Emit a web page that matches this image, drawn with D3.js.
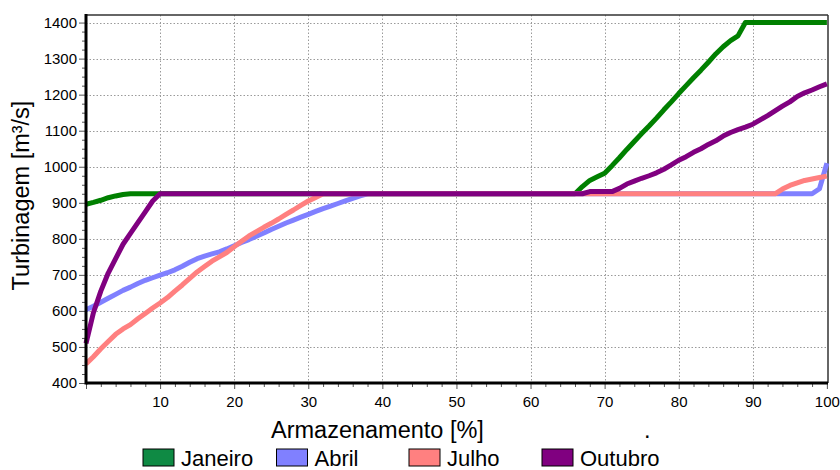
<!DOCTYPE html>
<html>
<head>
<meta charset="utf-8">
<script src="https://cdn.jsdelivr.net/npm/d3@7"></script>
<style>
  html, body { margin: 0; padding: 0; background: #fff; }
  svg { display: block; font-family: "Liberation Sans", Arial, sans-serif; }
</style>
</head>
<body>
<svg id="chart" width="840" height="470"></svg>
<script>
// Turbinagem vs. armazenamento, one curve per month: [armazenamento %, m³/s]
const janeiro = [[0,896],[1,901],[2,907],[3,914],[4,919],[5,923],[6,925],[66,925],[67,945],[68,962],[69,972],[70,982],
  [71,1003],[72,1025],[73,1048],[74,1070],[75,1092],[76,1113],[77,1135],[78,1158],[79,1180],[80,1203],[81,1225],
  [82,1247],[83,1268],[84,1290],[85,1313],[86,1333],[87,1350],[88,1363],[89,1400],[100,1400]];
const abril = [[0,603],[1,613],[2,624],[3,635],[4,646],[5,657],[6,666],[7,676],[8,685],[9,692],[10,699],[11,706],
  [12,714],[13,724],[14,735],[15,745],[16,752],[17,758],[18,764],[19,772],[20,781],[21,790],[22,798],[23,807],
  [24,816],[25,826],[26,835],[27,844],[28,852],[29,860],[30,868],[31,876],[32,884],[33,891],[34,898],[35,905],
  [36,912],[37,919],[38,925],[98,925],[99,939],[100,1010]];
const julho = [[0,453],[1,473],[2,495],[3,515],[4,535],[5,550],[6,562],[7,578],[8,593],[9,608],[10,622],[11,637],
  [12,655],[13,672],[14,690],[15,708],[16,723],[17,738],[18,750],[19,762],[20,778],[21,793],[22,808],[23,820],
  [24,832],[25,843],[26,855],[27,868],[28,880],[29,893],[30,905],[31,915],[32,925],[93,925],[94,938],[95,948],
  [96,955],[97,962],[98,966],[99,970],[100,974]];
const outubro = [[0,510],[1,595],[2,655],[3,705],[4,745],[5,785],[6,815],[7,845],[8,875],[9,905],[10,925],
  [67,925],[68,931],[71,931],[72,940],[73,952],[74,960],[75,968],[76,975],[77,983],[78,993],[79,1005],[80,1018],
  [81,1028],[82,1040],[83,1050],[84,1062],[85,1072],[86,1085],[87,1095],[88,1103],[89,1110],[90,1118],[91,1130],
  [92,1142],[93,1155],[94,1168],[95,1180],[96,1195],[97,1205],[98,1213],[99,1222],[100,1230]];

const seriesNames = ["Janeiro", "Abril", "Julho", "Outubro"];
const seriesData = [janeiro, abril, julho, outubro];
const lineColors = ["#008000", "#8080ff", "#ff8080", "#800080"];
const swatchColors = ["#0f8a44", "#8080ff", "#ff8080", "#800080"];

const xTicks = [0, 10, 20, 30, 40, 50, 60, 70, 80, 90, 100];
const yTicks = [400, 500, 600, 700, 800, 900, 1000, 1100, 1200, 1300, 1400];
const xTitle = "Armazenamento [%]";
const yTitle = "Turbinagem [m³/s]";

const svg = d3.select("#chart");
const W = 840, H = 470;
const m = { left: 86, top: 15, right: 12, bottom: 87 };

const x = d3.scaleLinear().domain([0, 100.15]).range([m.left, W - m.right]);
const y = d3.scaleLinear().domain([400, 1421]).range([H - m.bottom, m.top]);

// dotted grid
const grid = svg.append("g").attr("stroke", "#9a9a9a").attr("stroke-width", 1).attr("stroke-dasharray", "1.5,2");
grid.selectAll("line.gx").data(xTicks.filter(d => d > 0 && d < 100)).join("line")
  .attr("x1", d => Math.round(x(d)) + 0.5).attr("x2", d => Math.round(x(d)) + 0.5)
  .attr("y1", y.range()[1]).attr("y2", y.range()[0]);
grid.selectAll("line.gy").data(yTicks.filter(d => d > 400)).join("line")
  .attr("x1", x.range()[0]).attr("x2", x.range()[1])
  .attr("y1", d => Math.round(y(d)) + 0.5).attr("y2", d => Math.round(y(d)) + 0.5);

// frame (top/right thin)
svg.append("line").attr("x1", x.range()[0]).attr("x2", x.range()[1]).attr("y1", m.top).attr("y2", m.top)
  .attr("stroke", "#333").attr("stroke-width", 1.5);
svg.append("line").attr("x1", x.range()[1]).attr("x2", x.range()[1]).attr("y1", m.top).attr("y2", y(400))
  .attr("stroke", "#333").attr("stroke-width", 1.5);

// curves
const line = d3.line().x(d => x(d[0])).y(d => y(d[1]));
svg.append("g").selectAll("path").data(seriesData).join("path")
  .attr("d", line)
  .attr("fill", "none")
  .attr("stroke", (d, i) => lineColors[i])
  .attr("stroke-width", 5)
  .attr("stroke-linejoin", "round")
  .attr("stroke-linecap", "butt");

// minor ticks
const minorY = d3.range(400, 1401, 25).filter(v => v % 100 !== 0);
const minorX = d3.range(0, 101, 2).filter(v => v % 10 !== 0);
svg.append("g").attr("transform", `translate(${m.left},0)`)
  .call(d3.axisLeft(y).tickValues(minorY).tickSize(4).tickSizeOuter(0).tickFormat(""))
  .call(g => g.select(".domain").remove())
  .call(g => g.selectAll("line").attr("stroke", "#555"));
svg.append("g").attr("transform", `translate(0,${y(400)})`)
  .call(d3.axisBottom(x).tickValues(minorX).tickSize(4).tickSizeOuter(0).tickFormat(""))
  .call(g => g.select(".domain").remove())
  .call(g => g.selectAll("line").attr("stroke", "#555"));

// major axes
const yAxis = svg.append("g").attr("transform", `translate(${m.left},0)`)
  .call(d3.axisLeft(y).tickValues(yTicks).tickSize(7).tickSizeOuter(0).tickPadding(2).tickFormat(d3.format("d")))
  .call(g => g.select(".domain").remove());
yAxis.selectAll("line").attr("stroke", "#555");
yAxis.selectAll("text").attr("font-size", 15).attr("fill", "#000").attr("font-family", "Liberation Sans, Arial, sans-serif");

const xAxis = svg.append("g").attr("transform", `translate(0,${y(400)})`)
  .call(d3.axisBottom(x).tickValues(xTicks).tickSize(6).tickSizeOuter(0).tickPadding(7)
    .tickFormat(d => d === 0 ? "" : d))
  .call(g => g.select(".domain").remove());
xAxis.selectAll("line").attr("stroke", "#555");
xAxis.selectAll("text").attr("font-size", 15).attr("fill", "#000").attr("font-family", "Liberation Sans, Arial, sans-serif");

// thick axis lines
svg.append("line").attr("x1", m.left).attr("x2", m.left).attr("y1", m.top - 1).attr("y2", y(400) + 1.5)
  .attr("stroke", "#000").attr("stroke-width", 3);
svg.append("line").attr("x1", m.left).attr("x2", x.range()[1]).attr("y1", y(400)).attr("y2", y(400))
  .attr("stroke", "#000").attr("stroke-width", 3);

// titles
svg.append("text").attr("x", 271).attr("y", 438).attr("font-size", 23.5).attr("fill", "#000").text(xTitle);
svg.append("text").attr("x", 644).attr("y", 438).attr("font-size", 23.5).attr("fill", "#000").text(".");
svg.append("text")
  .attr("transform", `translate(29,${(98 + 293) / 2}) rotate(-90)`)
  .attr("text-anchor", "middle").attr("font-size", 23.5).attr("fill", "#000").text(yTitle);

// legend
const legendX = [143, 276.5, 409, 542];
const lg = svg.append("g").selectAll("g").data(seriesNames).join("g")
  .attr("transform", (d, i) => `translate(${legendX[i]},449)`);
lg.append("rect").attr("width", 31).attr("height", 17)
  .attr("fill", (d, i) => swatchColors[i]).attr("stroke", "#000").attr("stroke-width", 1);
lg.append("text").attr("x", 38).attr("y", 16.5).attr("font-size", 22).attr("fill", "#000").text(d => d);
</script>
</body>
</html>
